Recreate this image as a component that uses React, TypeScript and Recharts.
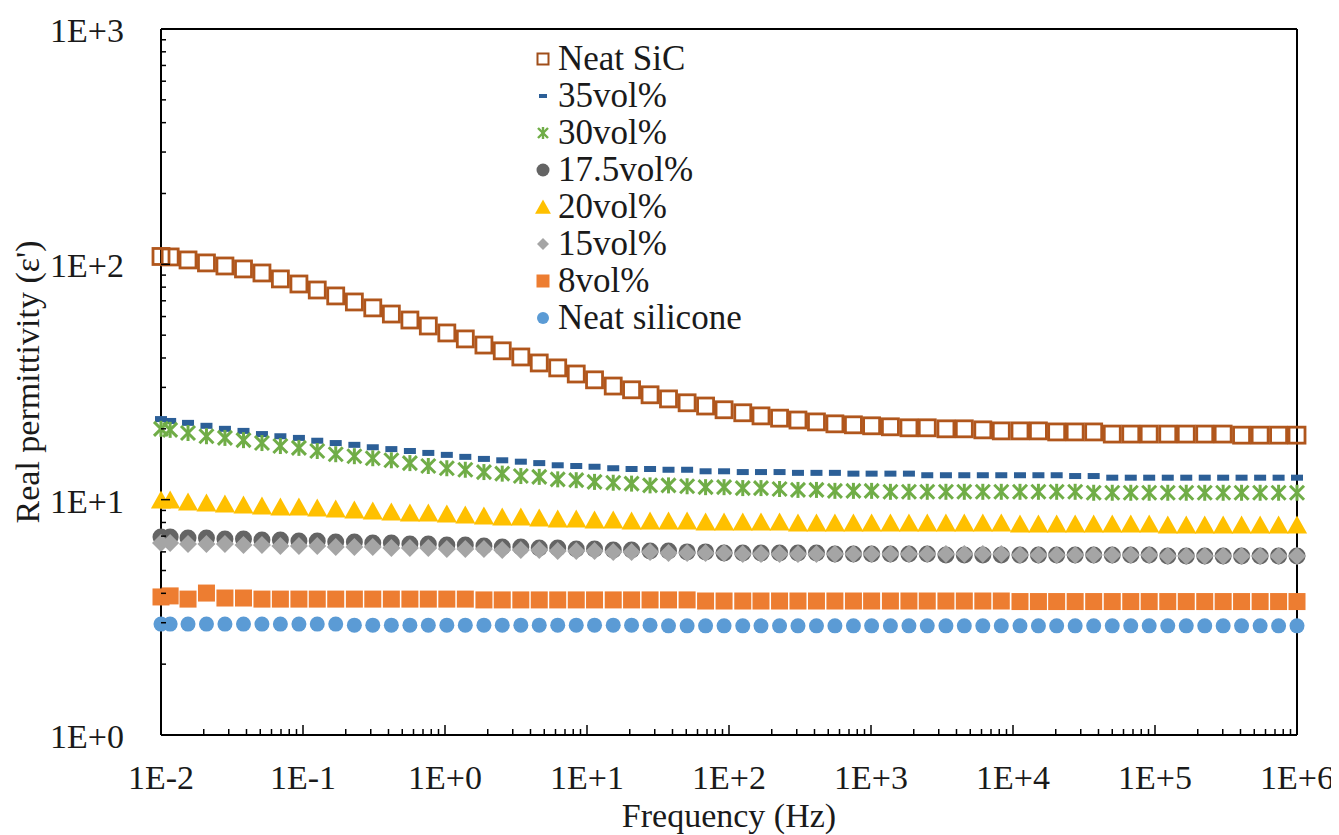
import React from 'react';
import { ScatterChart, Scatter, XAxis, YAxis, Legend } from 'recharts';

// Frequency points of the sweep (Hz)
const FREQ = [
  0.01, 0.0116, 0.0155, 0.0209, 0.0282, 0.0381, 0.0514, 0.0693, 0.0936, 0.126, 0.17, 0.23, 0.31, 0.419, 0.566,
  0.763, 1.03, 1.39, 1.88, 2.53, 3.42, 4.61, 6.22, 8.4, 11.3, 15.3, 20.6, 27.8, 37.5, 50.7, 68.4, 92.3, 125, 168,
  227, 306, 413, 557, 752, 1010, 1370, 1850, 2490, 3370, 4540, 6130, 8270, 11200, 15100, 20300, 27400, 37000,
  50000, 67500, 91000, 123000, 166000, 224000, 302000, 407000, 550000, 742000, 1000000,
];

const NEAT_SIC = [
  108, 107.5, 104.4, 101.4, 98.4, 95.6, 91.9, 86.7, 82.5, 77.8, 73.4, 69.2, 65.3, 61.5, 58.0, 54.7, 51.1, 48.2,
  45.4, 42.9, 40.4, 38.1, 36.3, 34.2, 32.3, 30.4, 29.3, 27.9, 26.8, 25.8, 25.0, 24.1, 23.4, 22.7, 22.2, 21.8,
  21.4, 21.0, 20.8, 20.6, 20.4, 20.2, 20.2, 20.0, 20.0, 19.8, 19.6, 19.6, 19.6, 19.4, 19.4, 19.4, 19.0, 19.0,
  19.0, 19.0, 19.0, 19.0, 19.0, 18.8, 18.8, 18.8, 18.8,
];

const VOL35 = [
  22.0, 21.6, 21.2, 20.6, 20.0, 19.6, 19.0, 18.6, 18.3, 17.8, 17.4, 17.1, 16.7, 16.4, 16.1, 15.8, 15.5, 15.2,
  14.9, 14.7, 14.5, 14.3, 14.0, 13.9, 13.8, 13.6, 13.5, 13.5, 13.4, 13.4, 13.2, 13.2, 13.1, 13.1, 13.1, 13.0,
  13.0, 13.0, 12.9, 12.9, 12.9, 12.9, 12.7, 12.7, 12.7, 12.7, 12.7, 12.7, 12.7, 12.7, 12.6, 12.6, 12.4, 12.4,
  12.4, 12.4, 12.4, 12.4, 12.4, 12.4, 12.4, 12.4, 12.4,
];

const VOL30 = [
  20.0, 19.8, 19.2, 18.6, 18.3, 17.9, 17.4, 16.9, 16.6, 16.1, 15.6, 15.3, 15.0, 14.7, 14.3, 13.9, 13.6, 13.4,
  13.1, 12.9, 12.6, 12.5, 12.2, 12.1, 11.9, 11.8, 11.7, 11.5, 11.5, 11.4, 11.3, 11.3, 11.2, 11.2, 11.1, 11.0,
  11.0, 10.9, 10.9, 10.9, 10.8, 10.8, 10.8, 10.8, 10.8, 10.8, 10.8, 10.8, 10.8, 10.8, 10.8, 10.7, 10.7, 10.7,
  10.7, 10.7, 10.7, 10.7, 10.7, 10.7, 10.7, 10.7, 10.7,
];

const VOL175 = [
  6.94, 6.94, 6.87, 6.87, 6.81, 6.81, 6.74, 6.74, 6.67, 6.67, 6.61, 6.61, 6.55, 6.55, 6.48, 6.48, 6.42, 6.42,
  6.36, 6.3, 6.3, 6.23, 6.23, 6.17, 6.17, 6.11, 6.11, 6.05, 6.05, 6.0, 6.0, 5.94, 5.94, 5.94, 5.94, 5.94, 5.94,
  5.88, 5.88, 5.88, 5.88, 5.88, 5.88, 5.82, 5.82, 5.82, 5.82, 5.82, 5.82, 5.82, 5.82, 5.82, 5.82, 5.82, 5.82,
  5.76, 5.76, 5.76, 5.76, 5.76, 5.76, 5.76, 5.76,
];

const VOL20 = [
  9.97, 9.97, 9.78, 9.68, 9.59, 9.49, 9.4, 9.31, 9.31, 9.22, 9.13, 9.04, 8.95, 8.87, 8.78, 8.78, 8.7, 8.61, 8.53,
  8.44, 8.44, 8.36, 8.28, 8.28, 8.2, 8.2, 8.12, 8.12, 8.12, 8.12, 8.04, 8.04, 8.04, 8.04, 8.04, 7.96, 7.96, 7.96,
  7.96, 7.96, 7.96, 7.96, 7.96, 7.96, 7.96, 7.96, 7.96, 7.88, 7.88, 7.88, 7.88, 7.88, 7.88, 7.88, 7.88, 7.81,
  7.81, 7.81, 7.81, 7.81, 7.81, 7.81, 7.81,
];

const VOL15 = [
  6.55, 6.55, 6.48, 6.48, 6.48, 6.42, 6.42, 6.36, 6.36, 6.36, 6.3, 6.3, 6.3, 6.23, 6.23, 6.23, 6.17, 6.17, 6.17,
  6.11, 6.11, 6.11, 6.05, 6.05, 6.05, 6.0, 6.0, 6.0, 5.94, 5.94, 5.94, 5.94, 5.88, 5.88, 5.88, 5.88, 5.88, 5.88,
  5.88, 5.88, 5.88, 5.88, 5.88, 5.88, 5.88, 5.88, 5.88, 5.82, 5.82, 5.82, 5.82, 5.82, 5.82, 5.82, 5.82, 5.76,
  5.76, 5.76, 5.76, 5.76, 5.76, 5.76, 5.76,
];

const VOL8 = [
  3.86, 3.9, 3.78, 4.01, 3.82, 3.82, 3.78, 3.78, 3.78, 3.78, 3.78, 3.78, 3.78, 3.78, 3.78, 3.78, 3.78, 3.78,
  3.75, 3.75, 3.75, 3.75, 3.75, 3.75, 3.75, 3.75, 3.75, 3.75, 3.75, 3.75, 3.71, 3.71, 3.71, 3.71, 3.71, 3.71,
  3.71, 3.71, 3.71, 3.71, 3.71, 3.71, 3.71, 3.71, 3.71, 3.71, 3.71, 3.69, 3.69, 3.69, 3.69, 3.69, 3.69, 3.69,
  3.69, 3.69, 3.69, 3.69, 3.69, 3.69, 3.69, 3.69, 3.69,
];

const NEAT_SILICONE = [
  2.96, 2.96, 2.96, 2.96, 2.96, 2.96, 2.96, 2.96, 2.96, 2.96, 2.96, 2.93, 2.93, 2.93, 2.93, 2.93, 2.93, 2.93,
  2.93, 2.93, 2.93, 2.93, 2.93, 2.93, 2.93, 2.93, 2.93, 2.93, 2.91, 2.91, 2.91, 2.91, 2.91, 2.91, 2.91, 2.91,
  2.91, 2.91, 2.91, 2.91, 2.91, 2.91, 2.91, 2.91, 2.91, 2.91, 2.91, 2.91, 2.91, 2.91, 2.91, 2.91, 2.91, 2.91,
  2.91, 2.91, 2.91, 2.91, 2.91, 2.91, 2.91, 2.91, 2.91,
];

const X_DECADES = [0.01, 0.1, 1, 10, 100, 1000, 10000, 100000, 1000000];
const Y_DECADES = [1, 10, 100, 1000];
const MINOR_STEPS = [2, 3, 4, 5, 6, 7, 8, 9];

const X_TICKS = X_DECADES.flatMap((d, i) => (i < X_DECADES.length - 1 ? [d, ...MINOR_STEPS.map((m) => m * d)] : [d]));
const Y_TICKS = Y_DECADES.flatMap((d, i) => (i < Y_DECADES.length - 1 ? [d, ...MINOR_STEPS.map((m) => m * d)] : [d]));

const SERIF = '"Liberation Serif", "Times New Roman", serif';
const TEXT = '#1a1a1a';

const toRows = (vals: number[]) => FREQ.map((f, i) => ({ f, v: vals[i] }));

const isMajor = (v: number) => Math.abs(Math.log10(v) - Math.round(Math.log10(v))) < 1e-6;
const sci = (v: number) => {
  const e = Math.round(Math.log10(v));
  return `1E${e < 0 ? '-' : '+'}${Math.abs(e)}`;
};

// marker shapes
const hollowSquare = (s: number, c: string, w: number) => (p: any) =>
  <rect x={p.cx - s / 2} y={p.cy - s / 2} width={s} height={s} fill="none" stroke={c} strokeWidth={w} />;
const dash = (wd: number, ht: number, c: string) => (p: any) =>
  <rect x={p.cx - wd / 2} y={p.cy - ht / 2} width={wd} height={ht} fill={c} />;
const star = (s: number, c: string, w: number) => (p: any) => {
  const h = s / 2;
  return (
    <g stroke={c} strokeWidth={w}>
      <line x1={p.cx - h} y1={p.cy - h} x2={p.cx + h} y2={p.cy + h} />
      <line x1={p.cx - h} y1={p.cy + h} x2={p.cx + h} y2={p.cy - h} />
      <line x1={p.cx} y1={p.cy - h - 1} x2={p.cx} y2={p.cy + h + 1} />
    </g>
  );
};
const dot = (r: number, c: string) => (p: any) => <circle cx={p.cx} cy={p.cy} r={r} fill={c} />;
const tri = (s: number, c: string) => (p: any) =>
  <polygon points={`${p.cx},${p.cy - s * 0.5} ${p.cx - s * 0.53},${p.cy + s * 0.45} ${p.cx + s * 0.53},${p.cy + s * 0.45}`} fill={c} />;
const diamond = (s: number, c: string) => (p: any) =>
  <polygon points={`${p.cx},${p.cy - s / 2} ${p.cx + s / 2},${p.cy} ${p.cx},${p.cy + s / 2} ${p.cx - s / 2},${p.cy}`} fill={c} />;
const square = (s: number, c: string) => (p: any) =>
  <rect x={p.cx - s / 2} y={p.cy - s / 2} width={s} height={s} fill={c} />;

const SERIES = [
  { name: 'Neat SiC', vals: NEAT_SIC, shape: hollowSquare(16, '#b0561c', 2.8), icon: hollowSquare(11, '#a04e1a', 2) },
  { name: '35vol%', vals: VOL35, shape: dash(12, 6, '#2c5f97'), icon: dash(8, 4, '#2c5f97') },
  { name: '30vol%', vals: VOL30, shape: star(14, '#70ad47', 3), icon: star(10, '#70ad47', 2.4) },
  { name: '17.5vol%', vals: VOL175, shape: dot(8.5, '#646464'), icon: dot(6.5, '#646464') },
  { name: '20vol%', vals: VOL20, shape: tri(19, '#ffc000'), icon: tri(15, '#ffc000') },
  { name: '15vol%', vals: VOL15, shape: diamond(18, '#a5a5a5'), icon: diamond(12, '#a5a5a5') },
  { name: '8vol%', vals: VOL8, shape: square(17, '#ed7d31'), icon: square(13, '#ed7d31') },
  { name: 'Neat silicone', vals: NEAT_SILICONE, shape: dot(7.5, '#5b9bd5'), icon: dot(6, '#5b9bd5') },
];

// ticks drawn inside the plot frame; labels only on the decades
const XTick = (props: any) => {
  const { x, payload } = props;
  const y = props.y - 1;
  const major = isMajor(payload.value);
  return (
    <g>
      <line x1={x} x2={x} y1={y} y2={y - (major ? 9 : 5)} stroke="#000" strokeWidth={1.5} />
      {major && (
        <text x={x} y={y + 55} textAnchor="middle" fontFamily={SERIF} fontSize={34} fill={TEXT}>
          {sci(payload.value)}
        </text>
      )}
    </g>
  );
};

const YTick = (props: any) => {
  const { x, y, payload } = props;
  const major = isMajor(payload.value);
  return (
    <g>
      <line x1={x} x2={x + (major ? 9 : 5)} y1={y} y2={y} stroke="#000" strokeWidth={1.5} />
      {major && (
        <text x={x - 37} y={y + 13} textAnchor="end" fontFamily={SERIF} fontSize={34} fill={TEXT}>
          {sci(payload.value)}
        </text>
      )}
    </g>
  );
};

const XTitle = (props: any) => {
  const vb = props.viewBox;
  return (
    <text x={vb.x + vb.width / 2} y={vb.y + 92} textAnchor="middle" fontFamily={SERIF} fontSize={34} fill={TEXT}>
      Frequency (Hz)
    </text>
  );
};

const YTitle = (props: any) => {
  const vb = props.viewBox;
  const cx = vb.x + vb.width - 134;
  const cy = vb.y + vb.height / 2;
  return (
    <text
      x={cx}
      y={cy}
      transform={`rotate(-90, ${cx}, ${cy})`}
      textAnchor="middle"
      dominantBaseline="central"
      fontFamily={SERIF}
      fontSize={34}
      fill={TEXT}
    >
      Real permittivity (ε')
    </text>
  );
};

const LegendBox = () => (
  <div style={{ fontFamily: SERIF, fontSize: 35, color: TEXT }}>
    {SERIES.map((s) => (
      <div key={s.name} style={{ display: 'flex', alignItems: 'center', height: 37, whiteSpace: 'nowrap' }}>
        <svg width={20} height={20} style={{ marginRight: 5, flex: 'none' }}>
          {s.icon({ cx: 10, cy: 10 })}
        </svg>
        <span>{s.name}</span>
      </div>
    ))}
  </div>
);

const App: React.FC = () => {
  return (
    <ScatterChart width={1331} height={827} margin={{ top: 20, right: 41, bottom: 99, left: 152 }}>
      <XAxis
        dataKey="f"
        type="number"
        scale="log"
        domain={[0.01, 1000000]}
        ticks={X_TICKS}
        interval={0}
        tick={(p: any) => <XTick {...p} />}
        tickLine={false}
        tickSize={0}
        tickMargin={0}
        height={1}
        axisLine={{ stroke: '#000', strokeWidth: 2 }}
        label={{ content: XTitle }}
      />
      <YAxis
        dataKey="v"
        type="number"
        scale="log"
        domain={[1, 1000]}
        ticks={Y_TICKS}
        interval={0}
        tick={(p: any) => <YTick {...p} />}
        tickLine={false}
        tickSize={0}
        tickMargin={0}
        width={1}
        axisLine={{ stroke: '#000', strokeWidth: 2 }}
        label={{ content: YTitle }}
      />
      <XAxis xAxisId="top" orientation="top" type="number" domain={[0, 1]} ticks={[0, 1]} height={1}
        tick={false} tickLine={false} axisLine={{ stroke: '#000', strokeWidth: 2 }} />
      <YAxis yAxisId="right" orientation="right" type="number" domain={[0, 1]} ticks={[0, 1]} width={1}
        tick={false} tickLine={false} axisLine={{ stroke: '#000', strokeWidth: 2 }} />
      <Legend
        layout="vertical"
        align="center"
        verticalAlign="middle"
        wrapperStyle={{ left: 525, top: 32, width: 280 }}
        content={() => <LegendBox />}
      />
      {SERIES.map((s) => (
        <Scatter key={s.name} name={s.name} data={toRows(s.vals)} shape={s.shape} isAnimationActive={false} />
      ))}
    </ScatterChart>
  );
};

export default App;
